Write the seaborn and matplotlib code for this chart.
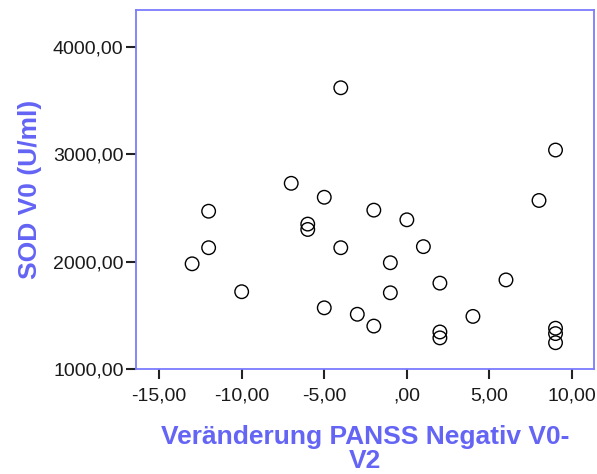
import numpy as np
import matplotlib
matplotlib.use("Agg")
import matplotlib.pyplot as plt
import pandas as pd
import seaborn as sns

# Werte
panss_change = [-13, -12, -12, -10, -7, -6, -6, -5, -5, -4, -4, -3, -2, -2,
                -1, -1, 0, 1, 2, 2, 2, 4, 6, 8, 9, 9, 9, 9]
sod_v0 = [1980, 2470, 2130, 1720, 2730, 2350, 2300, 2600, 1570, 3620, 2130,
          1510, 2480, 1400, 1990, 1710, 2390, 2140, 1800, 1345, 1290, 1490,
          1830, 2570, 3040, 1380, 1330, 1245]
x_ticks = [-15, -10, -5, 0, 5, 10]
y_ticks = [1000, 2000, 3000, 4000]

df = pd.DataFrame({"panss": panss_change, "sod": sod_v0})

sns.set_style("white")
plt.rcParams["font.family"] = ["Liberation Sans", "DejaVu Sans"]

fig = plt.figure(figsize=(5.97, 4.74), dpi=100)
ax = fig.add_axes([0.228, 0.2215, 0.767, 0.7575])

sns.scatterplot(data=df, x="panss", y="sod", ax=ax, marker="o", s=95,
                facecolor="none", edgecolor="black", linewidth=1.0)

ax.set_xlim(-16.39, 11.33)
ax.set_ylim(1000, 4345)
ax.set_xticks(x_ticks)
ax.set_yticks(y_ticks)
ax.set_xticklabels([(",00" if v == 0 else ("%.2f" % v).replace(".", ",")) for v in x_ticks])
ax.set_yticklabels([("%.2f" % v).replace(".", ",") for v in y_ticks])

frame = "#7b7bff"
for sp in ax.spines.values():
    sp.set_color(frame)
    sp.set_linewidth(1.3)

ax.tick_params(axis="both", direction="out", length=7, width=1.5, color="#222222",
               labelsize=14, labelcolor="#1a1a1a", bottom=True, left=True)
ax.tick_params(axis="x", pad=6)
ax.tick_params(axis="y", pad=2)

lab = "#6464f5"
ax.set_xlabel("Veränderung PANSS Negativ V0-\nV2", fontsize=19, fontweight="bold",
              color=lab, labelpad=15, linespacing=0.98)
ax.set_ylabel("SOD V0 (U/ml)", fontsize=19, fontweight="bold", color=lab, labelpad=8)

fig.savefig("out.png", dpi=100)
